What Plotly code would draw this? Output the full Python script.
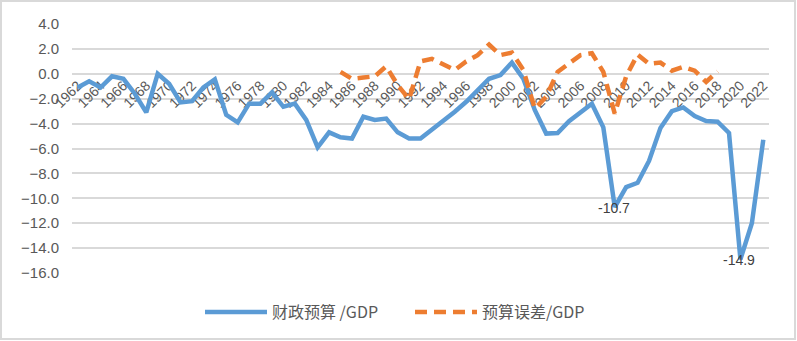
import plotly.graph_objects as go

# 财政预算/GDP, 1962-2022
budget_years = list(range(1962, 2023))
budget_gdp = [
    -1.1, -0.6, -1.1, -0.2, -0.4, -1.6, -3.1, 0.0, -0.8, -2.3,      # 1962-1971
    -2.2, -1.1, -0.45, -3.3, -3.9, -2.4, -2.4, -1.5, -2.65, -2.4,   # 1972-1981
    -3.7, -5.9, -4.7, -5.1, -5.2, -3.45, -3.7, -3.6, -4.7, -5.2,    # 1982-1991
    -5.2, -4.5, -3.7, -3.05, -2.25, -1.3, -0.4, -0.1, 0.9, -0.4,    # 1992-2001
    -2.9, -4.8, -4.75, -3.8, -3.1, -2.4, -4.3, -10.7, -9.1, -8.75,  # 2002-2011
    -7.0, -4.35, -3.0, -2.7, -3.4, -3.8, -3.85, -4.75, -14.9, -12.0,  # 2012-2021
    -5.3,                                                          # 2022
]

# 预算误差/GDP, 1985-2018
error_years = list(range(1985, 2019))
error_gdp = [
    0.15, -0.4, -0.3, -0.2, 0.6, -0.9, -2.05, 1.0, 1.2, 0.7,        # 1985-1994
    0.3, 1.0, 1.5, 2.35, 1.5, 1.7, 0.3, -2.8, -1.85, 0.15,          # 1995-2004
    0.85, 1.5, 1.65, 0.15, -3.2, -0.2, 1.55, 0.8, 0.9, 0.25,        # 2005-2014
    0.55, 0.25, -0.65, 0.2,                                         # 2015-2018
]

# years whose value is printed under the point
labelled_years = [2009, 2020]

tick_years = list(range(1962, 2023, 2))
tick_text = [str(y) for y in tick_years]
y_ticks = list(range(-16, 5, 2))

BLUE = "#5B9BD5"
ORANGE = "#ED7D31"
GRID = "#D9D9D9"
TXT = "#595959"
FONT = "Liberation Sans, Noto Sans CJK SC, sans-serif"

fig = go.Figure()
fig.add_trace(go.Scatter(
    x=budget_years, y=budget_gdp, name="财政预算 /GDP",
    mode="lines", line=dict(color=BLUE, width=4.5), hoverinfo="x+y",
))
fig.add_trace(go.Scatter(
    x=error_years, y=error_gdp, name="预算误差/GDP",
    mode="lines", line=dict(color=ORANGE, width=4.5, dash="12px,7px"),
    hoverinfo="x+y",
))

# value labels for the two troughs
for yr, val in zip(budget_years, budget_gdp):
    if yr in labelled_years:
        fig.add_annotation(
            x=yr, y=val, text=f"{val:.1f}", showarrow=False,
            yanchor="middle", yshift=-1, xshift=-1,
            font=dict(size=14, color="#404040", family=FONT),
        )

L, R, T, B = 72, 28, 24, 68
W, H = 797, 341
pw, ph = W - L - R, H - T - B
y_min, y_max = -16, 4

fig.update_layout(
    width=W, height=H,
    margin=dict(l=L, r=R, t=T, b=B, pad=0),
    paper_bgcolor="white", plot_bgcolor="white",
    font=dict(family=FONT, color=TXT),
    showlegend=True,
    legend=dict(
        orientation="h", x=(200 - L) / pw, xanchor="left",
        y=-(312 - (H - B)) / ph, yanchor="middle",
        font=dict(size=16, color=TXT, family="Noto Sans CJK SC, sans-serif"),
        itemwidth=62, entrywidth=133, entrywidthmode="pixels",
        bgcolor="rgba(0,0,0,0)",
    ),
    xaxis=dict(
        range=[1961.5, 2022.5], tickmode="array",
        tickvals=tick_years, ticktext=tick_text, tickangle=-45,
        tickfont=dict(size=14, color=TXT),
        showgrid=False, zeroline=False, showline=False, ticks="",
        anchor="free", position=(0 - y_min) / (y_max - y_min),
        layer="below traces", fixedrange=True,
    ),
    yaxis=dict(
        range=[y_min, y_max], tickmode="array", tickvals=y_ticks,
        tickformat=".1f", tickfont=dict(size=15, color=TXT),
        showgrid=True, gridcolor=GRID, gridwidth=1.5,
        zeroline=False, showline=False, ticks="",
        ticklabelstandoff=12,
    ),
    shapes=[dict(
        type="rect", xref="paper", yref="paper",
        x0=(1 - L) / pw, x1=(W - 2 - L) / pw,
        y0=-(H - 2 - (H - B)) / ph, y1=(H - B - 1) / ph,
        line=dict(color=GRID, width=2), fillcolor="rgba(0,0,0,0)", layer="below",
    )],
)

fig.write_html("out.html")
